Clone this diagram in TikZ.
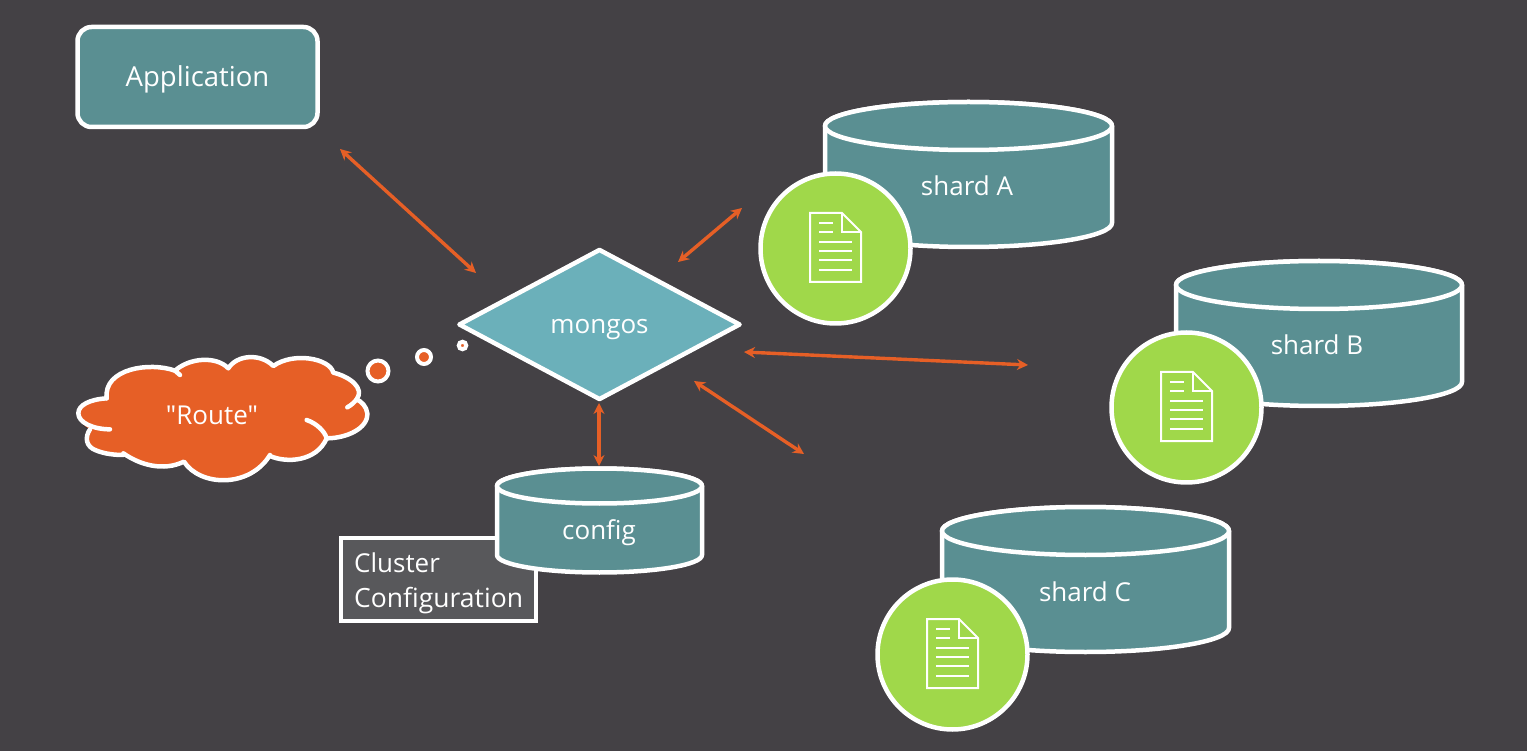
\documentclass[tikz,border=0pt]{standalone}
\usepackage{fontspec}
\setmainfont[Ligatures=TeXOff]{Open Sans}
\usetikzlibrary{arrows.meta,shapes.geometric,shadows}
\definecolor{bgc}{RGB}{68,65,69}
\definecolor{tealc}{RGB}{90,143,146}
\definecolor{diac}{RGB}{107,176,186}
\definecolor{greenc}{RGB}{160,216,74}
\definecolor{orangec}{RGB}{230,95,38}
\definecolor{boxc}{RGB}{88,88,91}
\tikzset{
  softshadow/.style={general shadow={shadow xshift=1pt,shadow yshift=-2pt,fill=black,opacity=.28}},
  shape line/.style={draw=white,line width=4.5pt,line join=round},
  label text/.style={text=white,font=\fontsize{26}{30}\selectfont,inner sep=0pt,text height=19pt,text depth=0pt},
  link/.style={draw=orangec,line width=3.4pt,{Stealth[length=11pt,width=11pt]}-{Stealth[length=11pt,width=11pt]}},
  doc line/.style={draw=white,line width=2pt},
  cloud line/.style={white,line width=4.5pt,line cap=round,line join=round},
}
% cylinder: left x, top-ellipse centre y, rx, ry, side height, node name, text, text x, text y
\newcommand{\drum}[9]{%
  \path[shape line,fill=tealc,softshadow] (#1,#2) -- ++(0,#5) arc[start angle=180,end angle=360,x radius=#3,y radius=-#4] -- ++(0,-#5) arc[start angle=0,end angle=180,x radius=#3,y radius=-#4] -- cycle;
  \path[shape line,fill=tealc] (#1+#3,#2) ellipse[x radius=#3,y radius=#4];
  \node[label text] (#6) at (#8,#9) {#7};
}
\newcommand{\docdisc}[3]{%
  \begin{scope}[shift={(#2,#3)}]
    \node[circle,shape line,fill=greenc,minimum size=150pt,inner sep=0pt,softshadow] (#1) at (835.5,248.5) {};
    \draw[doc line,line join=miter] (810,213) -- (842,213) -- (861,232) -- (861,282) -- (810,282) -- cycle;
    \draw[doc line] (842,213) -- (842,232) -- (861,232);
    \draw[doc line] (819,223) -- (833,223);
    \draw[doc line] (819,232) -- (833,232);
    \draw[doc line] (819,242) -- (852,242);
    \draw[doc line] (819,251) -- (852,251);
    \draw[doc line] (819,260) -- (852,260);
    \draw[doc line] (819,270) -- (852,270);
  \end{scope}
}
\begin{document}
\begin{tikzpicture}[x=1pt,y=-1pt]
\fill[bgc] (0,0) rectangle (1527,751);
\useasboundingbox (0,0) rectangle (1527,751);

% application
\node[shape line,fill=tealc,rounded corners=14pt,minimum width=240pt,minimum height=100pt,inner sep=0pt,softshadow,label text,font=\fontsize{27.5}{30}\selectfont] (app) at (197.5,77) {Application};

% cluster configuration box
\node[draw=white,line width=4pt,fill=boxc,minimum width=195pt,minimum height=83pt,inner sep=0pt,softshadow] (cluster) at (438.8,579.5) {};
\node[label text,anchor=base west] (clustera) at (354,572) {Cluster};
\node[label text,anchor=base west,font=\fontsize{26.5}{30}\selectfont] (clusterb) at (354,607) {Configuration};

% cylinders
\drum{497}{486}{102.5}{17.5}{69}{config}{config}{599}{530}
\drum{825}{126}{143.5}{24}{97}{sharda}{shard A}{967}{186}
\drum{1176}{285}{143}{24}{97}{shardb}{shard B}{1317}{345}
\drum{942}{531}{143.5}{24}{97}{shardc}{shard C}{1085}{592}
\docdisc{disca}{0}{0}
\docdisc{discb}{351}{159}
\docdisc{discc}{117}{406}

% mongos
\node[diamond,shape line,fill=diac,minimum width=282pt,minimum height=151pt,aspect=1.87,inner sep=0pt,softshadow,label text] (mongos) at (599.5,324.5) {mongos};

% cloud
\begin{scope}[shift={(60,330)},x=0.3333pt,y=-0.3333pt]
  \path[fill=orangec,softshadow] (140,205)
    .. controls (90,208) and (55,225) .. (55,250)
    .. controls (55,275) and (75,290) .. (90,298)
    .. controls (75,320) and (75,350) .. (110,362)
    .. controls (135,372) and (165,375) .. (190,375)
    .. controls (240,405) and (310,425) .. (372,395)
    .. controls (420,470) and (570,475) .. (630,378)
    .. controls (680,400) and (770,395) .. (800,325)
    .. controls (860,325) and (925,295) .. (922,250)
    .. controls (920,230) and (905,215) .. (890,208)
    .. controls (915,175) and (870,140) .. (820,128)
    .. controls (810,85) and (700,65) .. (640,108)
    .. controls (600,68) and (530,75) .. (505,115)
    .. controls (470,78) and (390,82) .. (345,122)
    .. controls (270,95) and (130,115) .. (140,205) -- cycle;
  \draw[cloud line]
    (140,205) .. controls (90,208) and (55,225) .. (55,250)
    .. controls (55,278) and (100,298) .. (150,298);
  \draw[cloud line]
    (90,298) .. controls (75,320) and (75,350) .. (110,362)
    .. controls (135,372) and (165,375) .. (190,375);
  \draw[cloud line]
    (190,370) .. controls (240,405) and (310,425) .. (372,395)
    .. controls (420,470) and (570,475) .. (630,375);
  \draw[cloud line]
    (630,378) .. controls (680,400) and (770,395) .. (800,325)
    .. controls (795,305) and (770,280) .. (740,270);
  \draw[cloud line]
    (800,325) .. controls (860,325) and (925,295) .. (922,250)
    .. controls (920,230) and (905,215) .. (890,208)
    .. controls (885,215) and (875,225) .. (862,232);
  \draw[cloud line]
    (890,208) .. controls (915,175) and (870,140) .. (820,128)
    .. controls (810,85) and (700,65) .. (640,108)
    .. controls (600,68) and (530,75) .. (505,115)
    .. controls (470,78) and (390,82) .. (345,122) -- (360,135);
  \draw[cloud line]
    (345,122) .. controls (270,95) and (130,115) .. (140,205);
\end{scope}
\node[label text] (route) at (212,415) {"Route"};

% thought bubbles
\node[circle,draw=white,line width=4pt,fill=orangec,minimum size=21pt,inner sep=0pt] (bubblea) at (378,371) {};
\node[circle,draw=white,line width=4pt,fill=orangec,minimum size=14pt,inner sep=0pt] (bubbleb) at (424,357) {};
\node[circle,draw=white,line width=4pt,fill=orangec,minimum size=7.5pt,inner sep=0pt] (bubblec) at (462.5,345.5) {};

% connectors
\coordinate (append) at (340,149);
\coordinate (mongosnw) at (476,273);
\coordinate (aend) at (742,208);
\coordinate (mongosne) at (678,262);
\coordinate (bend) at (1028,365);
\coordinate (mongose) at (744,352);
\coordinate (cend) at (804,454);
\coordinate (mongosse) at (694,381);
\coordinate (mongoss) at (599,403);
\coordinate (configtop) at (599,466);
\draw[link] (append) -- (mongosnw);
\draw[link] (aend) -- (mongosne);
\draw[link] (mongose) -- (bend);
\draw[link] (mongosse) -- (cend);
\draw[link] (mongoss) -- (configtop);
\end{tikzpicture}
\end{document}
